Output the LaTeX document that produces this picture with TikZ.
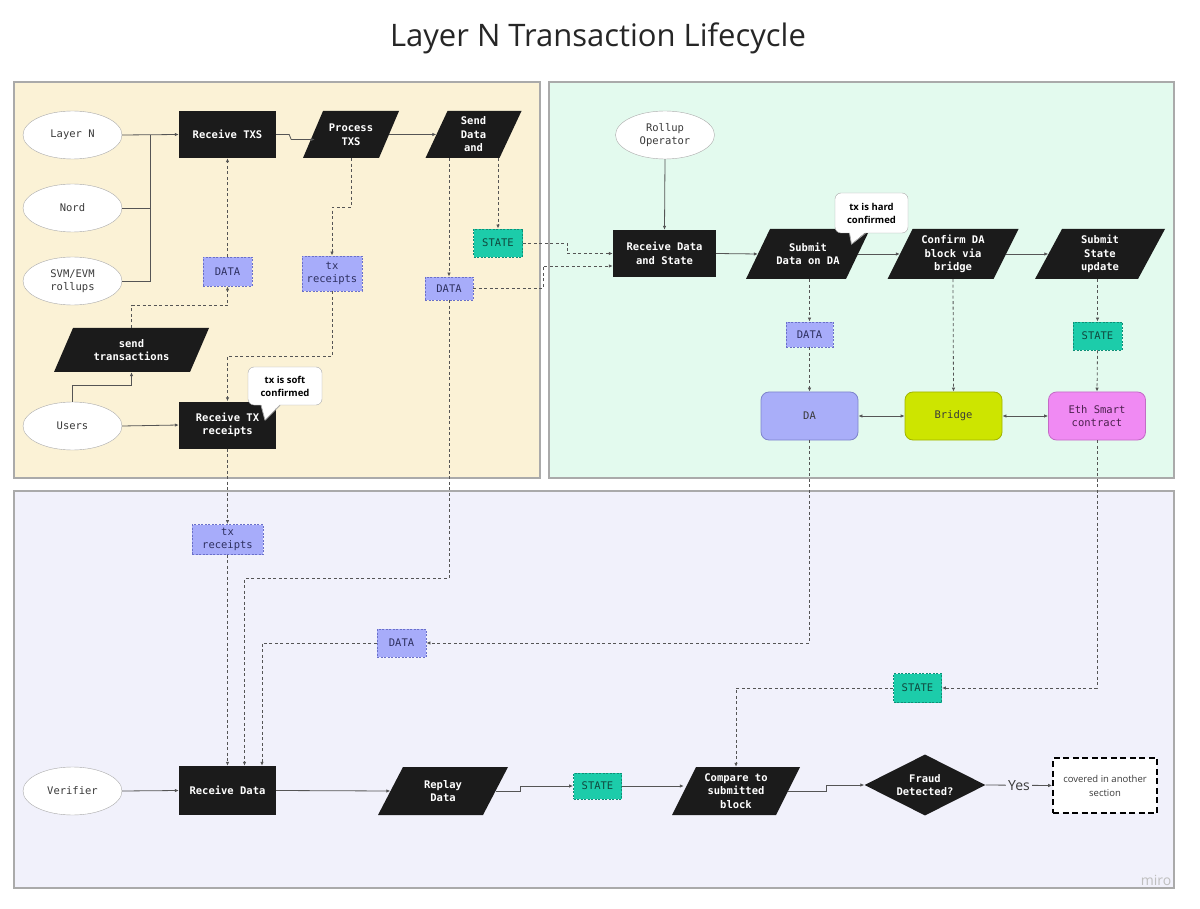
\documentclass[tikz,border=0pt]{standalone}
\usepackage{fontspec}
\setmainfont{Open Sans}
\setmonofont{DejaVu Sans Mono}
\usetikzlibrary{shapes.geometric,arrows.meta,calc}
\definecolor{panelY}{HTML}{FBF2D6}
\definecolor{panelG}{HTML}{E3FAEE}
\definecolor{panelB}{HTML}{F1F1FB}
\definecolor{panelline}{HTML}{AAAAAA}
\definecolor{boxblack}{HTML}{1B1B1B}
\definecolor{datafill}{HTML}{A7ACFA}
\definecolor{dataline}{HTML}{6A70C9}
\definecolor{datatext}{HTML}{2E3060}
\definecolor{statefill}{HTML}{1CCCAA}
\definecolor{stateline}{HTML}{0E8F77}
\definecolor{statetext}{HTML}{10473D}
\definecolor{dafill}{HTML}{A9AEF9}
\definecolor{daline}{HTML}{7E84CC}
\definecolor{bridgefill}{HTML}{CDE500}
\definecolor{bridgeline}{HTML}{A0B300}
\definecolor{ethfill}{HTML}{F08AF3}
\definecolor{ethline}{HTML}{C36BC6}
\definecolor{ethtext}{HTML}{4A1F4C}
\definecolor{lncol}{HTML}{555555}
\definecolor{txtgray}{HTML}{3A3A3A}
\newcommand\mymono{\ttfamily\fontsize{10.5}{13.5}\selectfont}
\newcommand\parabox[7]{%
  \fill[boxblack] (#2-#4/2-#6/2, #3+#5/2) -- (#2+#4/2-#6/2, #3+#5/2) -- (#2+#4/2+#6/2, #3-#5/2) -- (#2-#4/2+#6/2, #3-#5/2) -- cycle;
  \node[paratext, minimum width=#4, minimum height=#5] (#1) at (#2,#3) {#7};}
\begin{document}
\begin{tikzpicture}[x=1pt,y=-1pt,
  panel/.style={draw=panelline, line width=1.2},
  blk/.style={fill=boxblack, text=white, font=\mymono\bfseries, minimum width=97, minimum height=47, inner sep=0, align=center},
  paratext/.style={inner sep=0, text=white, font=\mymono\bfseries, align=center},
  ell/.style={ellipse, draw=panelline, fill=white, minimum width=99, minimum height=48, inner sep=0, align=center, text=txtgray, font=\mymono},
  tag/.style={dashed, dash pattern=on 2pt off 1.5pt, line width=0.9, inner sep=0, align=center, font=\mymono},
  data/.style={tag, draw=dataline, fill=datafill, text=datatext},
  state/.style={tag, draw=stateline, fill=statefill, text=statetext},
  rbox/.style={rounded corners=8, line width=0.8, minimum width=97, minimum height=48, inner sep=0, align=center, font=\mymono},
  bubble/.style={draw=panelline, fill=white, rounded corners=6, inner sep=0, align=center, text=black, font=\bfseries\fontsize{9.5}{13}\selectfont},
  ln/.style={draw=lncol, line width=0.8},
  arr/.style={ln, -{Latex[length=4pt,width=3.5pt]}},
  darr/.style={arr, dashed, dash pattern=on 3pt off 2.5pt},
  dbl/.style={ln, {Latex[length=4pt,width=3.5pt]}-{Latex[length=4pt,width=3.5pt]}}]
\useasboundingbox (0,0) rectangle (1200,909);
\fill[white] (0,0) rectangle (1200,909);
% title
\node[text=black!85, font=\fontsize{31}{36}\selectfont] (title) at (598,38) {Layer N Transaction Lifecycle};
% panels
\draw[panel, fill=panelY] (14,82) rectangle (540,478);
\draw[panel, fill=panelG] (549,82) rectangle (1174,478);
\draw[panel, fill=panelB] (14,491) rectangle (1174,888);
\node[text=black!25, font=\fontsize{14}{16}\selectfont] (miro) at (1156,880) {miro};
% ---- top left
\node[ell] (layern) at (72.5,135) {Layer N};
\node[ell] (nord) at (72.5,208) {Nord};
\node[ell] (svm) at (72.5,281) {SVM/EVM\\rollups};
\node[ell] (users) at (72.5,426) {Users};
\node[blk] (rtxs) at (227.5,134.5) {Receive TXS};
\parabox{proc}{351}{134.5}{76}{47}{20}{Process\\TXS}
\parabox{send}{473.5}{134.5}{74}{47}{22}{Send\\Data\\and}
\parabox{sendtx}{131.5}{350}{136}{44}{19}{send\\transactions}
\node[blk] (rtxr) at (227.5,425) {Receive TX\\receipts};
\node[data, minimum width=49, minimum height=29] (data1) at (227.5,271.5) {DATA};
\node[data, minimum width=60, minimum height=35] (txr1) at (332,273.5) {tx\\receipts};
\node[state, minimum width=49, minimum height=28] (state1) at (498,243) {STATE};
\node[data, minimum width=48, minimum height=23] (data2) at (449,288.5) {DATA};
\coordinate (j1) at (150,135);
\draw[arr] (layern.east) -- (rtxs.west);
\draw[ln] (nord.east) -| (j1);
\draw[ln] (svm.east) -| (j1);
\draw[arr] (rtxs.east) -- ++(13,0) -- ++(2,5) -- ($(proc.west)+(2,5)$);
\draw[arr] (proc.east) -- (send.west);
\draw[arr] (users.north) -- ++(0,-16) -| (sendtx.south);
\draw[arr] (users.east) -- (rtxr.west);
\draw[darr] (sendtx.north) -- ++(0,-22) -| (data1.south);
\draw[darr] (data1.north) -- (rtxs.south);
\draw[darr] (proc.south) -- ++(0,49) -| (txr1.north);
\draw[darr] (txr1.south) -- ++(0,65) -| (rtxr.north);
\draw[darr] (send.south -| data2.north) -- (data2.north);
\draw[darr] (send.south -| state1.north) -- (state1.north);
% ---- top right
\node[ell] (rollup) at (665,135) {Rollup\\Operator};
\node[blk, minimum width=103] (rds) at (664.5,253.5) {Receive Data\\and State};
\parabox{subda}{808}{254}{100}{50}{24}{Submit\\Data on DA}
\parabox{confirm}{953}{254}{106}{50}{25}{Confirm DA\\block via\\bridge}
\parabox{substate}{1100}{254}{103}{50}{27}{Submit\\State\\update}
\node[data, minimum width=47, minimum height=25] (data4) at (809.5,334.5) {DATA};
\node[state, minimum width=49, minimum height=28] (state2) at (1097.5,336) {STATE};
\node[rbox, fill=dafill, draw=daline, text=txtgray] (da) at (809.5,416) {DA};
\node[rbox, fill=bridgefill, draw=bridgeline, text=txtgray] (bridge) at (953.5,416) {Bridge};
\node[rbox, fill=ethfill, draw=ethline, text=ethtext] (eth) at (1097,416) {Eth Smart\\contract};
\draw[arr] (rollup.south) -- (rds.north);
\draw[darr] (state1.east) -- ++(44,0) |- (rds.west);
\draw[darr] (data2.east) -- ++(70,0) |- ($(rds.west)+(0,12.5)$);
\draw[arr] (rds.east) -- (subda.west);
\draw[arr] (subda.east) -- (confirm.west);
\draw[arr] (confirm.east) -- (substate.west);
\draw[darr] (subda.south -| data4.north) -- (data4.north);
\draw[darr] (data4.south) -- (da.north);
\draw[darr] (confirm.south) -- (bridge.north);
\draw[darr] (substate.south -| state2.north) -- (state2.north);
\draw[darr] (state2.south) -- (eth.north);
\draw[dbl] (da.east) -- (bridge.west);
\draw[dbl] (bridge.east) -- (eth.west);
% ---- bottom
\node[data, minimum width=71, minimum height=30] (txr2) at (227.5,539.5) {tx\\receipts};
\node[data, minimum width=49, minimum height=28] (data3) at (401.5,643) {DATA};
\node[state, minimum width=48, minimum height=29] (state3) at (917.5,688) {STATE};
\node[ell] (ver) at (72.5,791) {Verifier};
\node[blk, minimum height=49] (rd) at (227.5,790.5) {Receive Data};
\parabox{replay}{443}{791}{105}{48}{25}{Replay\\Data}
\node[state, minimum width=48, minimum height=26] (state4) at (597.5,786) {STATE};
\parabox{cmp}{736}{791}{104}{48}{24}{Compare to\\submitted\\block}
\node[diamond, fill=boxblack, minimum width=121, minimum height=61, inner sep=0, aspect=2, text=white, font=\mymono\bfseries, align=center] (fraud) at (925,785) {Fraud\\Detected?};
\node[draw=black, dashed, dash pattern=on 6pt off 3.5pt, line width=1.6, fill=white, minimum width=104, minimum height=55, inner sep=0, text=txtgray, font=\fontsize{9.5}{14}\selectfont, align=center] (cov) at (1105,785.5) {covered in another\\section};
\draw[darr] (rtxr.south) -- (txr2.north);
\draw[darr] (txr2.south) -- (rd.north);
\draw[darr] (data2.south) -- ++(0,278) -| ($(rd.north)+(17,0)$);
\draw[darr] (da.south) |- (data3.east);
\draw[darr] (data3.west) -| ($(rd.north)+(34.5,0)$);
\draw[darr] (eth.south) |- (state3.east);
\draw[darr] (state3.west) -| (cmp.north);
\draw[arr] (ver.east) -- (rd.west);
\draw[arr] (rd.east) -- (replay.west);
\draw[arr] (replay.east) -- ++(25,0) |- (state4.west);
\draw[arr] (state4.east) -- (state4.east -| cmp.west);
\draw[arr] (cmp.east) -- ++(38,0) |- (fraud.west);
\draw[arr] (fraud.east) -- node[fill=panelB, inner sep=2, text=txtgray, font=\fontsize{14}{16}\selectfont] (yes) {Yes} (cov.west);
% ---- callouts
\node[bubble, minimum width=74, minimum height=38] (soft) at (285,386) {tx is soft\\confirmed};
\fill[white] ($(soft.south)+(-24,-1)$) -- ($(soft.south)+(-20,15)$) -- ($(soft.south)+(-5,-1)$) -- cycle;
\draw[draw=panelline, line width=0.8, line join=round] ($(soft.south)+(-24,0)$) -- ($(soft.south)+(-20,15)$) -- ($(soft.south)+(-5,0)$);
\node[bubble, minimum width=73, minimum height=40] (hard) at (871.5,213) {tx is hard\\confirmed};
\fill[white] ($(hard.south)+(-22,-1)$) -- ($(hard.south)+(-20,11)$) -- ($(hard.south)+(-6,-1)$) -- cycle;
\draw[draw=panelline, line width=0.8, line join=round] ($(hard.south)+(-22,0)$) -- ($(hard.south)+(-20,11)$) -- ($(hard.south)+(-6,0)$);
\end{tikzpicture}
\end{document}
